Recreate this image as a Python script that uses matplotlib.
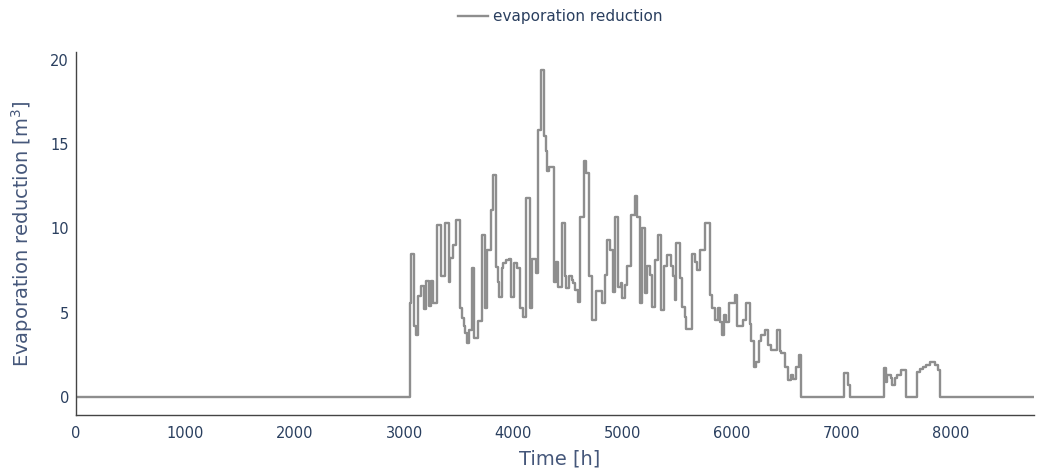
import matplotlib
matplotlib.use("Agg")
import matplotlib.pyplot as plt

# =========================================================
# DATA (step change points: value holds from hour until next hour)
# =========================================================
hours = [
    0, 3050, 3065, 3090, 3108, 3129, 3154, 3181, 3199, 3230, 3245, 3266,
    3297, 3334, 3373, 3407, 3419, 3449, 3474, 3510, 3528, 3545, 3560, 3571,
    3595, 3617, 3641, 3678, 3708, 3739, 3760, 3791, 3809, 3839, 3861, 3870,
    3891, 3906, 3931, 3961, 3982, 4007, 4034, 4059, 4089, 4113, 4150, 4171,
    4205, 4226, 4251, 4281, 4296, 4308, 4327, 4369, 4388, 4409, 4440, 4470,
    4485, 4506, 4531, 4546, 4561, 4591, 4613, 4644, 4668, 4692, 4714, 4759,
    4814, 4835, 4857, 4881, 4906, 4927, 4957, 4979, 4997, 5018, 5040, 5079,
    5110, 5131, 5155, 5177, 5201, 5222, 5247, 5271, 5292, 5323, 5353, 5378,
    5400, 5445, 5460, 5475, 5491, 5521, 5542, 5567, 5582, 5637, 5658, 5679,
    5704, 5750, 5795, 5820, 5841, 5871, 5887, 5908, 5926, 5948, 5972, 6024,
    6048, 6100, 6130, 6161, 6176, 6197, 6216, 6243, 6268, 6298, 6328, 6359,
    6414, 6435, 6450, 6481, 6511, 6536, 6557, 6588, 6609, 6633,
    7020, 7060, 7082,
    7386, 7410, 7420, 7450, 7465, 7490, 7510, 7540, 7587,
    7693, 7715, 7745, 7776, 7806, 7837, 7858, 7882, 7904, 8760,
]
evap_reduction = [
    0, 5.6, 8.5, 4.2, 3.7, 6.0, 6.6, 5.2, 6.9, 5.4, 6.9, 5.6,
    10.2, 7.2, 10.35, 6.85, 8.25, 9.0, 10.5, 5.3, 4.7, 4.2, 3.8, 3.2,
    4.0, 7.65, 3.5, 4.5, 9.6, 5.3, 8.7, 11.1, 13.2, 7.7, 6.85, 5.95,
    7.65, 7.95, 8.1, 8.2, 5.95, 7.95, 7.65, 5.3, 4.75, 11.8, 5.3, 8.2,
    7.35, 15.85, 19.4, 15.5, 14.6, 13.4, 13.65, 6.85, 8.0, 6.55, 10.3, 7.15,
    6.45, 7.15, 6.95, 6.75, 6.35, 5.65, 10.7, 14.0, 13.3, 7.15, 4.55, 6.3,
    5.55, 7.25, 9.3, 8.7, 6.25, 10.7, 6.55, 6.75, 5.85, 6.65, 7.8, 10.8,
    11.9, 10.7, 5.55, 10.0, 6.15, 7.8, 7.25, 5.35, 8.1, 9.6, 5.15, 7.8,
    8.4, 7.75, 7.15, 5.75, 9.15, 7.05, 5.35, 4.75, 4.05, 8.5, 8.0, 7.55,
    8.75, 10.35, 6.05, 5.25, 4.55, 5.25, 4.45, 3.7, 4.85, 4.45, 5.55, 6.05,
    4.2, 4.55, 5.55, 4.35, 3.3, 1.8, 2.1, 3.3, 3.7, 3.95, 3.1, 2.8,
    3.95, 2.7, 2.6, 1.8, 1.0, 1.3, 1.05, 1.8, 2.5, 0,
    1.45, 0.7, 0,
    1.7, 0.9, 1.3, 1.1, 0.7, 1.1, 1.3, 1.6, 0,
    1.5, 1.65, 1.8, 1.9, 2.05, 2.1, 1.9, 1.6, 0, 0,
]

x_ticks = [0, 1000, 2000, 3000, 4000, 5000, 6000, 7000, 8000]
y_ticks = [0, 5, 10, 15, 20]

# =========================================================
# PLOT
# =========================================================
text_color = "#2a3f5f"
title_color = "#45577a"
line_color = "#8e8e8e"

fig = plt.figure(figsize=(10.38, 4.71), dpi=100)
ax = fig.add_axes([76 / 1038, 56 / 471, 958 / 1038, 363 / 471])

ax.step(hours, evap_reduction, where="post", color=line_color, lw=1.7,
        label="evaporation reduction")

ax.set_xlim(0, 8760)
ax.set_ylim(-1.07, 20.47)
ax.set_xticks(x_ticks)
ax.set_yticks(y_ticks)

for side in ["top", "right"]:
    ax.spines[side].set_visible(False)
for side in ["left", "bottom"]:
    ax.spines[side].set_color("#444444")
    ax.spines[side].set_linewidth(1.0)

ax.tick_params(axis="both", length=0, labelsize=10.5, labelcolor=text_color)
ax.tick_params(axis="y", pad=5)
ax.tick_params(axis="x", pad=8)

ax.set_xlabel("Time [h]", fontsize=14, color=title_color, va="center")
ax.xaxis.set_label_coords(0.505, -0.121)
ax.set_ylabel("Evaporation reduction [m$^3$]", fontsize=14, color=title_color,
              va="center")
ax.yaxis.set_label_coords(-0.056, 0.5)

fig.legend(loc="center", bbox_to_anchor=(0.5395, 0.964), frameon=False,
           fontsize=11, labelcolor=text_color, handlelength=2.0,
           handletextpad=0.3)

fig.savefig("out.png", dpi=100, facecolor="white")
